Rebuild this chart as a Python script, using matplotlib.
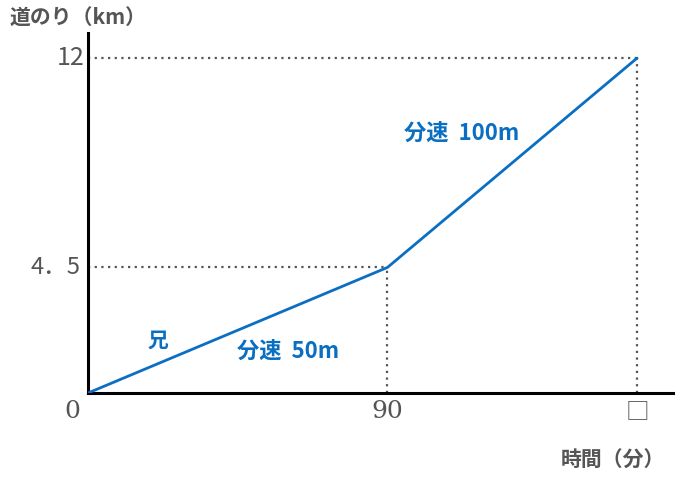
import matplotlib
matplotlib.use("Agg")
import matplotlib.pyplot as plt

# data
times = [0, 90, 165]          # minutes (165 is the hidden "□")
dist = [0, 4.5, 12]           # km
x_labels = ["0", "90", "□"]
y_labels = ["4．5", "12"]

blue = "#0a6fc2"
gray = "#555555"
jp = ["Noto Sans CJK JP", "DejaVu Sans"]

fig = plt.figure(figsize=(6.8, 4.8), dpi=100)
ax = fig.add_axes([88 / 680, 87 / 480, 585 / 680, 360 / 480])
ax.set_xlim(0, 175.8)
ax.set_ylim(0, 12.9)

ax.plot(times, dist, color=blue, lw=2, solid_capstyle="round", zorder=3)

# dotted guide lines
for t, d in zip(times[1:], dist[1:]):
    ax.plot([0, t], [d, d], color=gray, lw=1.6, ls=(0, (1, 2)), zorder=2)
    ax.plot([t, t], [0, d], color=gray, lw=1.6, ls=(0, (1, 2)), zorder=2)

for side in ["top", "right"]:
    ax.spines[side].set_visible(False)
for side in ["left", "bottom"]:
    ax.spines[side].set_linewidth(2.2)
    ax.spines[side].set_color("black")

ax.set_xticks([])
ax.set_yticks([])

# tick labels
ax.text(-4.8, -0.65, x_labels[0], ha="center", va="center", fontsize=18,
        family="DejaVu Serif", color=gray)
ax.text(times[1], -0.65, x_labels[1], ha="center", va="center", fontsize=18,
        family="DejaVu Serif", color=gray)
ax.text(times[2], -0.65, x_labels[2], ha="center", va="center", fontsize=17,
        family=jp, color=gray)
ax.text(-2.4, dist[1], y_labels[0], ha="right", va="center", fontsize=17,
        family=jp, color=gray)
ax.text(-1.0, dist[2], y_labels[1], ha="right", va="center", fontsize=18,
        family=jp, color=gray)

# axis titles
fig.text(10 / 680, 1 - 18 / 480, "道のり（km）", ha="left", va="center",
         fontsize=15, fontweight="bold", family=jp, color=gray)
fig.text(665 / 680, 1 - 460 / 480, "時間（分）", ha="right", va="center",
         fontsize=15, fontweight="bold", family=jp, color=gray)

# annotations
ax.text(21, 1.9, "兄", ha="center", va="center", fontsize=15,
        fontweight="bold", family=jp, color=blue)
ax.text(60, 1.5, "分速  50m", ha="center", va="center", fontsize=16,
        fontweight="bold", family=jp, color=blue)
ax.text(112.4, 9.31, "分速  100m", ha="center", va="center", fontsize=16,
        fontweight="bold", family=jp, color=blue)

fig.savefig("out.png", dpi=100)
